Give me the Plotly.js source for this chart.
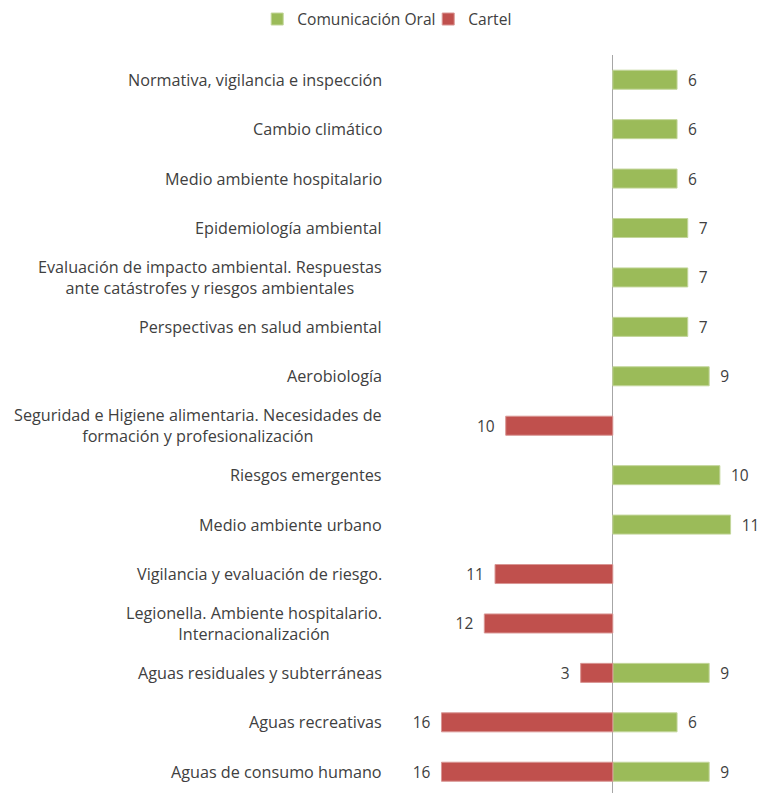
<!DOCTYPE html>
<html><head><meta charset="utf-8">
<script src="https://cdn.plot.ly/plotly-3.0.1.min.js"></script>
<style>body{margin:0;background:#fff}#chart{width:761px;height:793px}</style>
</head><body><div id="chart"></div>
<script>
const categories = [
  "Normativa, vigilancia e inspección",
  "Cambio climático",
  "Medio ambiente hospitalario",
  "Epidemiología ambiental",
  "Evaluación de impacto ambiental. Respuestas<br>ante catástrofes y riesgos ambientales",
  "Perspectivas en salud ambiental",
  "Aerobiología",
  "Seguridad e Higiene alimentaria. Necesidades de<br>formación y profesionalización",
  "Riesgos emergentes",
  "Medio ambiente urbano",
  "Vigilancia y evaluación de riesgo.",
  "Legionella. Ambiente hospitalario.<br>Internacionalización",
  "Aguas residuales y subterráneas",
  "Aguas recreativas",
  "Aguas de consumo humano"
];
const oral   = [6, 6, 6, 7, 7, 7, 9, null, 10, 11, null, null, 9, 6, 9];
const cartel = [null, null, null, null, null, null, null, 10, null, null, 11, 12, 3, 16, 16];

const FONT = "Open Sans, Liberation Sans, Arial, sans-serif";
const TXT = "#404040";
const NB = "\u00a0";

const traces = [
  {
    type: "bar", orientation: "h", name: "Comunicación Oral",
    y: categories, x: oral,
    text: oral.map(v => v == null ? "" : NB + NB + v),
    textposition: "outside", cliponaxis: false, constraintext: "none",
    textfont: {family: FONT, size: 15.5, color: TXT},
    marker: {color: "#9BBB59", line: {color: "#C3D69B", width: 1}},
    hoverinfo: "skip"
  },
  {
    type: "bar", orientation: "h", name: "Cartel",
    y: categories, x: cartel.map(v => v == null ? null : -v),
    text: cartel.map(v => v == null ? "" : v + NB + NB),
    textposition: "outside", cliponaxis: false, constraintext: "none",
    textfont: {family: FONT, size: 15.5, color: TXT},
    marker: {color: "#C0504D", line: {color: "#D99694", width: 1}},
    hoverinfo: "skip"
  }
];

const annotations = categories.map(c => ({
  xref: "paper", yref: "y", x: 0, y: c, xanchor: "right", xshift: -20,
  text: c, showarrow: false, align: "center",
  font: {family: FONT, size: 16.2, color: TXT}
}));

const layout = {
  width: 761, height: 793,
  margin: {l: 404, r: 9, t: 55, b: 0},
  paper_bgcolor: "#fff", plot_bgcolor: "#fff",
  barmode: "relative", bargap: 0.615,
  font: {family: FONT, size: 15, color: TXT},
  showlegend: true,
  legend: {orientation: "h", xref: "container", yref: "container", x: 0.338, xanchor: "left", y: 0.997, yanchor: "top",
           entrywidth: 126, entrywidthmode: "pixels",
           font: {family: FONT, size: 15.6, color: TXT}, traceorder: "normal"},
  xaxis: {range: [-19.5, 13], showticklabels: false, showgrid: false, zeroline: true,
          zerolinecolor: "#A6A6A6", zerolinewidth: 1, fixedrange: true},
  yaxis: {range: [14.43, -0.5], type: "category", showticklabels: false, showgrid: false, fixedrange: true},
  annotations: annotations
};

Plotly.newPlot("chart", traces, layout, {displayModeBar: false, staticPlot: true});
</script></body></html>
